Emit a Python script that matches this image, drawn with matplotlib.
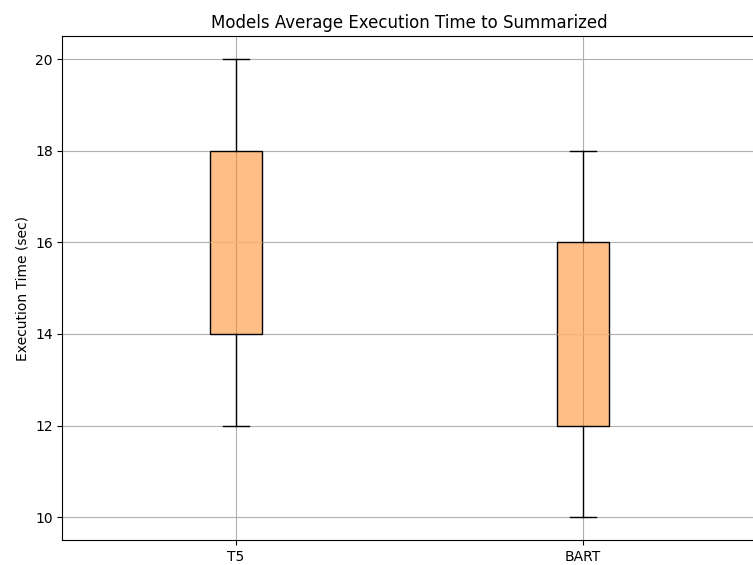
import matplotlib
matplotlib.use('Agg')
import matplotlib.pyplot as plt
from matplotlib.colors import to_rgba

# Execution times (sec) per summarization model
models = ['T5', 'BART']
t5_times = [12, 14, 16, 18, 20]
bart_times = [10, 12, 14, 16, 18]


def plot_times():
    fig = plt.figure(figsize=(7.53, 5.65), dpi=100)
    ax = fig.add_axes([0.083, 0.044, 0.922, 0.892])

    bp = ax.boxplot([t5_times, bart_times], tick_labels=models, widths=0.15,
                    patch_artist=True,
                    medianprops=dict(color='#f5b27a', linewidth=1.0))
    for box in bp['boxes']:
        box.set_facecolor(to_rgba('C1', 0.5))
        box.set_edgecolor('black')

    ax.grid(True)
    ax.set_ylabel('Execution Time (sec)')
    ax.set_title('Models Average Execution Time to Summarized')
    fig.savefig('out.png', dpi=100)


if __name__ == '__main__':
    plot_times()
